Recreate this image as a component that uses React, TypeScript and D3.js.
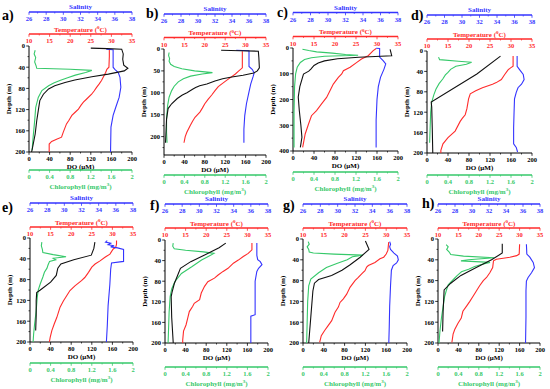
import * as d3 from "d3";

type Pt = [number, number]; // [depth (m), value]

// ---- tick labels ----
const salTicks = [26, 28, 30, 32, 34, 36, 38];
const tempTicks = [10, 15, 20, 25, 30, 35];
const doTicks = [0, 40, 80, 120, 160, 200];
const chlTicks = [0, 0.4, 0.8, 1.2, 1.6, 2];
const depth200 = [0, 40, 80, 120, 160, 200];
const depthB = [0, 50, 100, 150, 200];
const depthC = [0, 100, 200, 300, 400];

// ---- a) ----
const tempA: Pt[] = [[7,29.5],[20,29.5],[40,29.4],[44,28.9],[50,28.6],[56,28.2],[65,27.6],[72,27.0],[78,26.4],[85,25.8],[91,25.2],[100,24.0],[106,23.2],[112,22.6],[119,22.0],[125,21.2],[131,20.4],[140,19.7],[147,19.1],[155,18.7],[163,18.3],[172,17.9],[176,16.7],[180,15.5],[185,14.9],[200,14.9]];
const salA: Pt[] = [[6,35.0],[7,35.8],[40,35.8],[44,36.0],[50,36.4],[59,36.6],[78,36.7],[97,36.5],[116,36.1],[131,35.8],[153,35.55],[200,35.5]];
const doA: Pt[] = [[4,120],[5,152],[6,180],[15,183],[25,182],[36,184],[42,192],[47,185],[53,154],[58,122],[64,89],[69,70],[75,50],[81,38],[91,28],[103,21],[122,18],[141,15],[166,12],[191,7],[200,5]];
const chlA: Pt[] = [[8,0.12],[15,0.1],[22,0.13],[30,0.11],[38,0.14],[42,0.15],[44,0.8],[46,1.22],[50,1.1],[55,0.9],[60,0.75],[65,0.6],[70,0.48],[75,0.38],[84,0.25],[97,0.18],[116,0.13],[141,0.11],[172,0.08],[197,0.06]];

// ---- b) ----
const tempB: Pt[] = [[5,29.2],[43,29.2],[51,28.2],[57,27.5],[63,26.6],[74,25.0],[86,23.3],[95,22.5],[105,21.7],[115,20.8],[125,20.0],[135,19.4],[144,18.8],[156,17.6],[165,17.0],[175,16.4],[190,15.6],[200,15.2],[214,14.9]];
const salB: Pt[] = [[3,34.5],[4,36.0],[40,36.0],[47,36.4],[55,36.6],[62,36.5],[80,36.2],[98,36.0],[125,35.7],[152,35.5],[183,35.4],[214,35.4]];
const doB: Pt[] = [[3,112],[4,150],[5,185],[20,186],[43,187],[50,183],[55,176],[60,155],[64,133],[68,115],[73,100],[80,84],[84,70],[88,62],[92,56],[100,45],[105,36],[113,26],[125,15],[136,8],[160,5],[214,3]];
const chlB: Pt[] = [[8,0.1],[15,0.09],[22,0.11],[28,0.1],[35,0.13],[40,0.2],[45,0.35],[50,0.6],[54,0.95],[57,0.75],[62,0.52],[68,0.38],[75,0.28],[85,0.2],[95,0.15],[110,0.1],[130,0.07],[160,0.05],[190,0.05],[214,0.06]];

// ---- c) ----
const tempC: Pt[] = [[2,29.8],[10,29.1],[30,27.9],[43,26.3],[56,25.2],[75,23.6],[88,22.0],[101,21.6],[114,20.8],[140,19.6],[166,18.8],[192,18.0],[217,16.8],[243,15.6],[263,14.4],[295,13.7],[334,12.9],[386,12.3]];
const salC: Pt[] = [[1,35.5],[2,35.9],[35,35.9],[49,36.3],[62,36.6],[82,36.4],[114,36.0],[150,35.75],[200,35.6],[280,35.5],[386,35.5]];
const doC: Pt[] = [[5,185],[30,188],[36,125],[42,85],[50,60],[58,48],[68,40],[82,34],[90,30],[101,20],[115,18],[150,13],[190,10],[243,12],[300,15],[347,17],[386,14]];
const chlC: Pt[] = [[5,0.18],[10,0.3],[15,0.45],[20,0.75],[25,1.0],[28,1.24],[32,0.6],[38,0.35],[45,0.22],[56,0.14],[75,0.08],[100,0.05],[150,0.03],[250,0.02],[386,0.02]];

// ---- d) ----
const tempD: Pt[] = [[10,30.5],[30,30.5],[33,29.9],[37,29.3],[46,28.5],[56,27.7],[62,26.5],[65,25.6],[72,23.2],[78,21.6],[84,20.3],[94,19.9],[113,19.5],[125,19.1],[132,18.4],[138,17.9],[157,16.7],[170,15.0],[182,13.8],[195,13.3],[200,13.3]];
const salD: Pt[] = [[10,36.3],[30,36.3],[37,36.6],[46,37.0],[56,37.1],[65,36.8],[72,36.4],[81,36.2],[94,36.0],[120,35.95],[150,35.9],[182,35.9],[189,36.2],[198,36.35]];
const doD: Pt[] = [[10,140],[45,95],[100,8],[110,9],[150,10],[200,11]];
const chlD: Pt[] = [[12,0.22],[17,0.24],[20,0.6],[22,0.85],[26,0.75],[30,0.55],[36,0.45],[42,0.4],[47,0.35],[55,0.3],[64,0.23],[75,0.17],[86,0.13],[100,0.09],[120,0.07],[150,0.06],[180,0.05]];

// ---- e) ----
const tempE: Pt[] = [[5,31.0],[12,31.0],[18,30.8],[21,30.2],[31,29.4],[37,28.2],[44,27.0],[50,25.8],[56,25.0],[66,24.2],[76,23.3],[82,22.5],[92,20.9],[101,19.7],[111,18.9],[121,18.1],[133,17.3],[153,16.5],[165,15.9],[178,15.3],[191,14.9],[200,14.7]];
const salE: Pt[] = [[5,35.0],[8,34.8],[10,35.4],[13,35.1],[15,35.8],[17,35.4],[19,36.2],[22,36.9],[40,36.9],[45,36.9],[48,35.5],[60,35.4],[90,35.3],[130,35.1],[170,35.0],[200,34.9]];
const doE: Pt[] = [[8,126],[20,124],[33,119],[42,85],[50,60],[58,54],[72,51],[85,40],[100,20],[105,13],[120,12],[150,12],[178,11]];
const chlE: Pt[] = [[8,0.23],[15,0.22],[22,0.24],[28,0.25],[32,0.45],[36,0.7],[39,0.45],[42,0.5],[45,0.38],[52,0.35],[58,0.33],[66,0.28],[75,0.25],[88,0.2],[100,0.16],[115,0.14],[140,0.12],[165,0.09],[185,0.07],[200,0.06]];

// ---- f) ----
const tempF: Pt[] = [[6,31.1],[19,31.1],[26,30.2],[32,29.0],[39,27.8],[45,26.6],[55,25.3],[61,24.1],[68,22.9],[74,22.0],[81,20.4],[90,19.6],[103,18.8],[116,18.4],[123,17.1],[129,16.7],[139,15.9],[152,15.5],[165,15.1],[177,14.5],[194,14.3],[200,14.3]];
const salF: Pt[] = [[6,36.7],[30,36.7],[38,36.8],[42,37.1],[48,37.3],[55,36.9],[61,36.7],[80,36.5],[110,36.5],[145,36.5],[148,36.0],[200,36.0]];
const doF: Pt[] = [[6,118],[15,105],[29,77],[42,50],[55,30],[70,24],[85,18],[100,14],[110,12],[150,13],[200,16]];
const chlF: Pt[] = [[6,0.16],[12,0.15],[17,0.18],[20,0.4],[23,0.75],[26,0.95],[32,0.84],[39,0.71],[52,0.52],[65,0.32],[81,0.19],[95,0.13],[110,0.1],[140,0.08],[170,0.07],[200,0.06]];

// ---- g) ----
const tempG: Pt[] = [[6,30.6],[22,30.4],[29,30.0],[35,29.4],[38,28.5],[45,27.3],[51,25.7],[54,25.3],[61,24.9],[67,24.1],[74,23.3],[80,22.5],[93,21.3],[106,20.5],[115,19.7],[122,18.9],[131,18.5],[141,17.7],[157,16.9],[167,16.0],[176,15.2],[186,14.4],[199,14.0]];
const salG: Pt[] = [[5,36.0],[10,36.1],[15,36.0],[20,36.1],[27,36.5],[33,36.9],[40,37.0],[46,36.8],[51,36.4],[60,36.2],[90,36.1],[130,36.0],[170,35.95],[200,35.9]];
const doG: Pt[] = [[4,120],[20,127],[35,110],[50,90],[60,75],[70,55],[78,30],[85,22],[100,19],[150,15],[200,11]];
const chlG: Pt[] = [[5,0.1],[10,0.12],[15,0.08],[20,0.11],[25,0.12],[27,0.2],[29,0.6],[31,1.15],[34,0.95],[40,0.85],[47,0.65],[55,0.45],[65,0.3],[77,0.15],[90,0.11],[120,0.09],[160,0.08],[200,0.07]];

// ---- h) ----
const tempH: Pt[] = [[10,30.0],[29,29.9],[32,29.3],[35,27.6],[37,26.0],[39,24.3],[42,23.6],[55,23.4],[65,22.7],[74,21.9],[80,21.1],[90,20.2],[100,19.4],[110,18.6],[120,17.8],[129,17.0],[139,16.1],[152,15.7],[162,14.9],[174,14.1],[183,13.7],[199,13.4]];
const salH: Pt[] = [[10,36.4],[29,36.45],[35,36.8],[45,37.2],[55,37.35],[65,37.0],[74,36.6],[81,36.4],[100,36.35],[150,36.35],[200,36.3]];
const doH: Pt[] = [[9,126],[27,126],[40,105],[55,75],[70,45],[85,25],[98,12],[140,10],[178,9]];
const chlH: Pt[] = [[11,0.16],[15,0.2],[20,0.17],[25,0.22],[30,0.25],[33,0.5],[36,1.1],[40,0.6],[42,0.45],[45,1.02],[49,0.85],[53,0.72],[58,0.6],[63,0.46],[70,0.38],[75,0.33],[88,0.2],[100,0.16],[111,0.13],[130,0.1],[150,0.07],[175,0.04],[200,0.02]];

const RED = "#ff2b2b";
const BLUE = "#3434ff";
const GREEN = "#36c96a";
const FONT = "'Liberation Serif', 'Times New Roman', serif";

interface PanelCfg {
  label: string;
  temp: Pt[]; sal: Pt[]; dox: Pt[]; chl: Pt[];
  depthMax: number; depthTicks: number[];
  x0: number; x1: number; yTop: number; yBot: number;
  salY: number; tempY: number; chlY: number;
  lx: number; ly: number;
}

const panels: PanelCfg[] = [
  { label: "a)", temp: tempA, sal: salA, dox: doA, chl: chlA, depthMax: 200, depthTicks: depth200, x0: 29, x1: 132, yTop: 46, yBot: 152, salY: 12, tempY: 34, chlY: 170, lx: 2, ly: 20 },
  { label: "b)", temp: tempB, sal: salB, dox: doB, chl: chlB, depthMax: 242, depthTicks: depthB, x0: 164, x1: 266, yTop: 49, yBot: 155, salY: 14, tempY: 37.5, chlY: 175, lx: 146, ly: 18 },
  { label: "c)", temp: tempC, sal: salC, dox: doC, chl: chlC, depthMax: 400, depthTicks: depthC, x0: 293, x1: 398, yTop: 48, yBot: 151, salY: 12.5, tempY: 36.5, chlY: 172, lx: 277, ly: 17 },
  { label: "d)", temp: tempD, sal: salD, dox: doD, chl: chlD, depthMax: 200, depthTicks: depth200, x0: 427, x1: 532, yTop: 51, yBot: 153, salY: 15, tempY: 39, chlY: 175, lx: 411, ly: 20 },
  { label: "e)", temp: tempE, sal: salE, dox: doE, chl: chlE, depthMax: 200, depthTicks: depth200, x0: 30, x1: 133, yTop: 238, yBot: 342, salY: 203, tempY: 227, chlY: 363, lx: 2, ly: 212 },
  { label: "f)", temp: tempF, sal: salF, dox: doF, chl: chlF, depthMax: 200, depthTicks: depth200, x0: 165, x1: 268, yTop: 240, yBot: 343, salY: 204, tempY: 228, chlY: 367, lx: 150, ly: 210 },
  { label: "g)", temp: tempG, sal: salG, dox: doG, chl: chlG, depthMax: 200, depthTicks: depth200, x0: 303, x1: 407, yTop: 239, yBot: 343, salY: 204, tempY: 228, chlY: 367, lx: 283, ly: 210 },
  { label: "h)", temp: tempH, sal: salH, dox: doH, chl: chlH, depthMax: 200, depthTicks: depth200, x0: 438, x1: 540, yTop: 239, yBot: 343, salY: 204, tempY: 228, chlY: 367, lx: 422, ly: 208 },
];

function HAxis({ scale, ticks, minor, y, color, fmt, sw }: {
  scale: d3.ScaleLinear<number, number>; ticks: number[]; minor: number[];
  y: number; color: string; fmt: (v: number) => string; sw: number;
}) {
  const [a, b] = scale.range();
  return (
    <g>
      <line x1={a} x2={b} y1={y} y2={y} stroke={color} strokeWidth={sw} />
      {minor.map((v) => (
        <line key={"m" + v} x1={scale(v)} x2={scale(v)} y1={y} y2={y + 1.5} stroke={color} strokeWidth={0.7} />
      ))}
      {ticks.map((v) => (
        <g key={v}>
          <line x1={scale(v)} x2={scale(v)} y1={y} y2={y + 2.8} stroke={color} strokeWidth={0.8} />
          <text x={scale(v)} y={y + 9} textAnchor="middle" fontSize={6.5} fontWeight="bold" fill={color}>{fmt(v)}</text>
        </g>
      ))}
    </g>
  );
}

function Panel({ p }: { p: PanelCfg }) {
  const y = d3.scaleLinear().domain([0, p.depthMax]).range([p.yTop, p.yBot]);
  const xDo = d3.scaleLinear().domain([0, 200]).range([p.x0, p.x1]);
  const xT = d3.scaleLinear().domain([10, 35]).range([p.x0, p.x1]);
  const xS = d3.scaleLinear().domain([26, 38]).range([p.x0, p.x1]);
  const xC = d3.scaleLinear().domain([0, 2]).range([p.x0, p.x1]);
  const line = (xs: d3.ScaleLinear<number, number>) =>
    d3.line<Pt>().x((d) => xs(d[1])).y((d) => y(d[0]));

  const step = p.depthTicks[1] - p.depthTicks[0];
  const depthMinor = d3.range(step / 2, p.depthMax, step);
  const cx = (p.x0 + p.x1) / 2;
  const cy = (p.yTop + p.yBot) / 2;

  return (
    <g fontFamily={FONT}>
      <text x={p.lx} y={p.ly} fontSize={14} fontWeight="bold">{p.label}</text>

      {/* salinity axis */}
      <text x={cx} y={p.salY - 3} textAnchor="middle" fontSize={7} fontWeight="bold" fill={BLUE}>Salinity</text>
      <HAxis scale={xS} ticks={salTicks} minor={d3.range(27, 38, 2)} y={p.salY} color={BLUE} fmt={String} sw={1.3} />

      {/* temperature axis */}
      <text x={cx} y={p.tempY - 2.5} textAnchor="middle" fontSize={7} fontWeight="bold" fill={RED}>
        Temperature (<tspan fontSize={5} dy={-2.5}>0</tspan><tspan dy={2.5}>C)</tspan>
      </text>
      <HAxis scale={xT} ticks={tempTicks} minor={d3.range(12.5, 35, 5)} y={p.tempY} color={RED} fmt={String} sw={1.3} />

      {/* depth axis */}
      <line x1={p.x0} x2={p.x0} y1={p.yTop} y2={p.yBot} stroke="#000" strokeWidth={1} />
      {depthMinor.map((v) => (
        <line key={"dm" + v} x1={p.x0 - 1.5} x2={p.x0} y1={y(v)} y2={y(v)} stroke="#000" strokeWidth={0.7} />
      ))}
      {p.depthTicks.map((v) => (
        <g key={"d" + v}>
          <line x1={p.x0 - 2.8} x2={p.x0} y1={y(v)} y2={y(v)} stroke="#000" strokeWidth={0.8} />
          <text x={p.x0 - 4} y={y(v) + 2.3} textAnchor="end" fontSize={6.5} fontWeight="bold">{v}</text>
        </g>
      ))}
      <text transform={`translate(${p.x0 - 18},${cy}) rotate(-90)`} textAnchor="middle" fontSize={7} fontWeight="bold">Depth (m)</text>

      {/* DO axis */}
      <HAxis scale={xDo} ticks={doTicks} minor={d3.range(20, 200, 40)} y={p.yBot} color="#000" fmt={String} sw={1} />
      <text x={cx} y={p.yBot + 17} textAnchor="middle" fontSize={7} fontWeight="bold">DO (μM)</text>

      {/* chlorophyll axis */}
      <HAxis scale={xC} ticks={chlTicks} minor={d3.range(0.2, 2, 0.4)} y={p.chlY} color={GREEN} fmt={(v) => String(v)} sw={1.3} />
      <text x={cx} y={p.chlY + 18.5} textAnchor="middle" fontSize={7} fontWeight="bold" fill={GREEN}>
        Chlorophyll (mg/m<tspan fontSize={5} dy={-2.5}>3</tspan><tspan dy={2.5}>)</tspan>
      </text>

      {/* profiles */}
      <path d={line(xC)(p.chl) ?? ""} fill="none" stroke={GREEN} strokeWidth={1.1} />
      <path d={line(xT)(p.temp) ?? ""} fill="none" stroke={RED} strokeWidth={1.1} />
      <path d={line(xS)(p.sal) ?? ""} fill="none" stroke={BLUE} strokeWidth={1.1} />
      <path d={line(xDo)(p.dox) ?? ""} fill="none" stroke="#111" strokeWidth={1.1} />
    </g>
  );
}

export default function App() {
  return (
    <>
      <style>{`body{margin:0}`}</style>
      <svg width={550} height={389} style={{ display: "block", background: "#fff" }}>
        {panels.map((p) => (
          <Panel key={p.label} p={p} />
        ))}
      </svg>
    </>
  );
}
